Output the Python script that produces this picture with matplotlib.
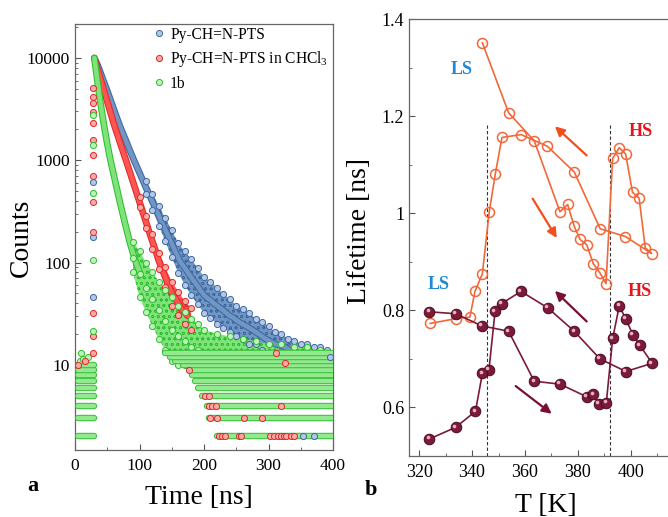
import matplotlib
matplotlib.use('Agg')
import matplotlib.pyplot as plt
import matplotlib.ticker as ticker
import matplotlib.patheffects as pe
import matplotlib.transforms as mtransforms
from matplotlib.lines import Line2D

plt.rcParams['font.family'] = ['Liberation Serif', 'DejaVu Serif']
plt.rcParams['mathtext.fontset'] = 'custom'
plt.rcParams['mathtext.rm'] = 'Liberation Serif'
plt.rcParams['mathtext.it'] = 'Liberation Serif:italic'
plt.rcParams['hatch.linewidth'] = 0.5

# ---------------- panel a : fluorescence decays ----------------
blue_t = [30, 35, 40, 45, 50, 55, 60, 65, 70, 75, 80, 85, 90, 95, 100, 105, 110, 115, 120, 125,
          130, 135, 140, 145, 150, 155, 160, 165, 170, 175, 180, 185, 190, 195, 200, 205, 210, 215,
          220, 225, 230, 235, 240, 245, 255, 265, 275, 285, 295, 310, 325, 340, 355, 370, 385, 395]
blue_c = [10000, 8570, 7050, 5800, 4790, 3900, 3180, 2590, 2130, 1790, 1500, 1250, 1050, 889, 754,
          640, 542, 462, 394, 336, 287, 245, 209, 179, 153, 130, 111, 98, 89, 80, 72, 65, 59, 53, 48,
          45, 43, 40, 38, 36, 34, 32, 30, 29, 26, 24, 22, 20, 18, 16, 15, 13, 12.4, 11.6, 11, 10.5]
blue_band_t = [110, 120, 130, 140, 150, 160, 170, 180, 190, 200, 210, 220, 230, 240, 250, 260, 270,
               280, 290, 300, 310, 320, 330, 340, 350, 360, 370, 380, 390]
blue_hi = [623, 473, 359, 272, 207, 155, 129, 108, 89, 72, 65, 57, 49, 44, 38, 35, 32, 28, 26, 24,
           21, 20, 18, 17, 16, 16, 15, 15, 14]
blue_lo = [471, 328, 230, 161, 113, 79, 61, 48, 39, 32, 29, 25, 23, 21, 19, 18, 16, 16, 14, 13,
           12, 12, 11, 10, 10, 9, 9, 9, 8]

red_t = [30, 35, 40, 45, 50, 55, 60, 65, 70, 75, 80, 85, 90, 95, 100, 105, 110, 115, 120, 125,
         130, 135, 140, 145, 150, 155, 160, 165, 170, 175]
red_c = [10000, 7820, 6120, 4790, 3740, 2930, 2290, 1840, 1480, 1190, 958, 767, 614, 491, 392,
         313, 250, 200, 161, 130, 104, 86, 72, 60, 50, 45, 40, 35, 32.5, 30]
red_band_t = [100, 110, 120, 130, 140, 150, 160, 170, 180]
red_hi = [439, 288, 190, 125, 90, 65, 52, 42, 36]
red_lo = [350, 217, 136, 87, 58, 38, 31, 25, 22]

green_t = [30, 35, 40, 45, 50, 55, 60, 65, 70, 75, 80, 85, 90, 95, 100]
green_c = [10000, 5750, 3470, 2190, 1450, 1000, 724, 525, 380, 282, 209, 158, 123, 98, 81]
green_band_t = [90, 100, 110, 120, 130, 140, 150, 160, 170, 180, 190, 200, 220, 240, 260, 280,
                300, 320, 340, 360, 380, 400]
green_hi = [160, 130, 100, 80, 65, 54, 46, 38, 33, 28, 25, 22, 20, 19, 18, 17, 16, 16, 15, 15, 14, 13]
green_mid = [110, 77, 57, 44, 34, 27, 22, 19, 17, 15, 14, 13, 13, 12.5, 12, 12, 11.5, 11.5, 11,
             11, 11, 11]
green_lo = [80, 46, 33, 24, 18, 14, 11, 10, 10, 10, 10, 10, 10, 10, 10, 10, 10, 10, 10, 10, 10, 10]

# rising edge of the pulse (all near t = 28 ns)
rise_t = 28
rise_red = [5080, 4150, 3620, 2950, 2300, 1570, 1120, 697, 387, 197, 32, 19, 13]
rise_green = [2770, 1400, 474, 106, 21.5]
rise_blue = [610, 178, 46]

# integer-count background rows
pre_levels = [2, 3, 4, 5, 6, 7, 8, 9, 10]
pre_span = (4, 29)
bg_levels = [2, 3, 4, 5, 6, 7, 8, 9, 10, 11, 12, 13]
bg_start = [220, 207, 205, 197, 190, 186, 181, 176, 168, 155, 148, 140]
bg_end = 400
pre_sparse_t = [8, 10, 13, 20]
pre_sparse_c = [11, 13, 11.4, 12]
red_bg_t = [223, 228, 233, 254, 257, 303, 309, 314, 319, 324, 327, 335, 340, 210, 220, 262, 290,
            207, 213, 218, 320, 202, 207, 176, 311, 326, 5, 15]
red_bg_c = [2, 2, 2, 2, 2, 2, 2, 2, 2, 2, 2, 2, 2, 3, 3, 3, 3, 4, 4, 4, 4, 5, 5, 9, 13, 10.5, 10, 11]
blue_bg_t = [353, 371, 395]
blue_bg_c = [2, 2, 12]

legend_labels = ['Py-CH=N-PTS', 'Py-CH=N-PTS in CHCl$_3$', '1b']

# ---------------- panel b : lifetime vs temperature ----------------
T_orange = [343.9, 353.8, 363.5, 373.2, 376.1, 378.6, 380.8, 383.3, 385.8, 388.3, 390.6, 393.1,
            395.6, 398.0, 400.6, 403.1, 405.4, 407.8, 397.9, 388.4, 378.6, 368.4, 358.5, 351.3,
            348.8, 346.5, 343.9, 341.1, 339.2, 334.0, 324.2]
L_orange = [1.351, 1.207, 1.149, 1.003, 1.018, 0.973, 0.946, 0.935, 0.896, 0.877, 0.855, 1.113,
            1.135, 1.122, 1.043, 1.031, 0.929, 0.917, 0.952, 0.968, 1.085, 1.138, 1.162, 1.156,
            1.081, 1.003, 0.875, 0.839, 0.786, 0.783, 0.773]
T_maroon = [323.9, 333.8, 343.7, 353.8, 363.5, 373.2, 383.3, 385.8, 388.0, 390.7, 393.1, 395.6,
            398.0, 400.8, 403.4, 408.0, 398.1, 388.3, 378.6, 368.6, 358.5, 351.2, 348.7, 346.4,
            343.9, 341.3, 333.8, 323.9]
L_maroon = [0.797, 0.793, 0.768, 0.757, 0.654, 0.648, 0.622, 0.627, 0.607, 0.609, 0.742, 0.809,
            0.783, 0.749, 0.728, 0.691, 0.674, 0.700, 0.757, 0.805, 0.839, 0.814, 0.798, 0.678,
            0.670, 0.592, 0.559, 0.535]
transition_T = [345.5, 392.1]

fig = plt.figure(figsize=(6.68, 5.17), dpi=100)
axa = fig.add_axes([75 / 668, 1 - 450 / 517, 258 / 668, 426 / 517])
axb = fig.add_axes([409 / 668, 1 - 456 / 517, 259 / 668, 437 / 517])

BLUE = ('#3e679e', '#7096c6', '#b3c8e6')
RED = ('#dd2a2a', '#ff5450', '#f9a9a6')
GREEN = ('#2fbd2f', '#7ee479', '#bdf3b9')

series = [
    (BLUE, blue_t, blue_c, blue_band_t, blue_lo, blue_hi),
    (RED, red_t, red_c, red_band_t, red_lo, red_hi),
    (GREEN, green_t, green_c, green_band_t, green_lo, green_hi),
]
mk = dict(marker='o', ms=4.4, mew=0.7, ls='none')
for (edge, mid, light), t, c, bt, lo, hi in series:
    axa.fill_between(bt, lo, hi, facecolor=mid, edgecolor=edge, hatch='ooo', linewidth=0, zorder=1)
    axa.plot(t, c, color=mid, lw=3.3, solid_capstyle='round', solid_joinstyle='round', zorder=2,
             path_effects=[pe.Stroke(linewidth=4.8, foreground=edge), pe.Normal()])
    axa.plot(bt, lo, mec=edge, mfc=light, zorder=2, **mk)
    axa.plot(bt, hi, mec=edge, mfc=light, zorder=2, **mk)
axa.plot(green_band_t, green_mid, mec=GREEN[0], mfc=GREEN[2], zorder=2, **mk)

# background rows (dense chains of markers at integer counts)
row_fx = [pe.Stroke(linewidth=4.6, foreground='#34bf34'), pe.Normal()]
for lvl in pre_levels:
    axa.plot(pre_span, [lvl, lvl], color='#93ea8e', lw=3.2, solid_capstyle='round',
             path_effects=row_fx, zorder=3)
for lvl, s in zip(bg_levels, bg_start):
    axa.plot([s, bg_end], [lvl, lvl], color='#93ea8e', lw=3.2, solid_capstyle='round',
             path_effects=row_fx, zorder=3)
axa.plot(pre_sparse_t, pre_sparse_c, mec=GREEN[0], mfc=GREEN[2], zorder=4, **mk)
axa.plot(red_bg_t, red_bg_c, mec=RED[0], mfc=RED[2], zorder=4, **mk)
axa.plot(blue_bg_t, blue_bg_c, mec=BLUE[0], mfc=BLUE[2], zorder=4, **mk)
axa.plot([rise_t] * len(rise_blue), rise_blue, mec=BLUE[0], mfc=BLUE[2], zorder=4, **mk)
axa.plot([rise_t] * len(rise_red), rise_red, mec=RED[0], mfc=RED[2], zorder=4, **mk)
axa.plot([rise_t] * len(rise_green), rise_green, mec=GREEN[0], mfc=GREEN[2], zorder=4, **mk)

axa.set_yscale('log')
axa.set_xlim(0, 400)
axa.set_ylim(1.47, 21500)
axa.xaxis.set_major_locator(ticker.MultipleLocator(100))
axa.xaxis.set_minor_locator(ticker.MultipleLocator(50))
axa.yaxis.set_major_locator(ticker.FixedLocator([10, 100, 1000, 10000]))
axa.yaxis.set_major_formatter(ticker.FuncFormatter(lambda v, p: f'{v:g}'))
axa.yaxis.set_minor_locator(ticker.LogLocator(subs=range(2, 10)))
axa.yaxis.set_minor_formatter(ticker.NullFormatter())
axa.tick_params(which='both', direction='in', labelsize=12.5, color='#555555')
axa.tick_params(which='major', length=4)
axa.tick_params(which='minor', length=2)
axa.tick_params(axis='x', pad=6)
for sp in axa.spines.values():
    sp.set_color('#666666')
    sp.set_linewidth(0.9)

handles = [Line2D([], [], mec=e, mfc=l, **mk) for e, m, l in (BLUE, RED, GREEN)]
axa.legend(handles, legend_labels, loc='upper left', bbox_to_anchor=(0.272, 1.012), frameon=False,
           fontsize=11.2, handlelength=0.8, handletextpad=0.3, labelspacing=0.42,
           borderpad=0, numpoints=1)

# ---------------- panel b ----------------
orange = '#f2683a'
maroon = '#7c1a3a'
axb.vlines(transition_T, 0.5, 1.182, colors='#333333', linestyles=(0, (3, 2)), lw=0.8)
axb.plot(T_orange, L_orange, '-', color=orange, lw=1.2, marker='o', ms=7.2, mfc='none',
         mec=orange, mew=1.1)
axb.plot(T_maroon, L_maroon, '-', color=maroon, lw=1.2, marker='o', ms=7.6, mfc=maroon,
         mec='#4a0a1e', mew=0.7)
shine = mtransforms.offset_copy(axb.transData, fig=fig, x=-1.2, y=1.2, units='points')
axb.plot(T_maroon, L_maroon, 'o', ms=2.6, color='#e7b0c0', mew=0, transform=shine)

arrow_kw = dict(arrowstyle='-|>', lw=1.6, mutation_scale=14, shrinkA=0, shrinkB=0)
axb.annotate('', xy=(371.3, 1.179), xytext=(383.3, 1.119), arrowprops=dict(color='#f0501e', **arrow_kw))
axb.annotate('', xy=(372.0, 0.949), xytext=(362.9, 1.030), arrowprops=dict(color='#f0501e', **arrow_kw))
axb.annotate('', xy=(371.3, 0.840), xytext=(383.3, 0.777), arrowprops=dict(color='#7a1030', **arrow_kw))
axb.annotate('', xy=(370.1, 0.587), xytext=(356.5, 0.644), arrowprops=dict(color='#7a1030', **arrow_kw))

txt = dict(fontsize=13, fontweight='bold', ha='center', va='center')
axb.text(336.1, 1.297, 'LS', color='#1f8ad2', **txt)
axb.text(403.8, 1.168, 'HS', color='#e3161d', **txt)
axb.text(327.5, 0.853, 'LS', color='#1f8ad2', **txt)
axb.text(403.4, 0.838, 'HS', color='#e3161d', **txt)

axb.set_xlim(316.2, 414)
axb.set_ylim(0.5, 1.4)
axb.xaxis.set_major_locator(ticker.MultipleLocator(20))
axb.xaxis.set_minor_locator(ticker.MultipleLocator(10))
axb.yaxis.set_major_locator(ticker.FixedLocator([0.6, 0.8, 1.0, 1.2, 1.4]))
axb.yaxis.set_major_formatter(ticker.FuncFormatter(lambda v, p: f'{v:g}'))
axb.yaxis.set_minor_locator(ticker.MultipleLocator(0.1))
axb.tick_params(which='both', direction='in', labelsize=13, color='#555555')
axb.tick_params(which='major', length=4)
axb.tick_params(which='minor', length=2)
axb.tick_params(axis='x', pad=6)
axb.spines['right'].set_visible(False)
for sp in axb.spines.values():
    sp.set_color('#666666')
    sp.set_linewidth(0.9)

fig.text(21 / 668, 1 - 238 / 517, 'Counts', rotation=90, fontsize=20, ha='center', va='center')
fig.text(199 / 668, 1 - 497 / 517, 'Time [ns]', fontsize=20, ha='center', va='center')
fig.text(360 / 668, 1 - 231 / 517, 'Lifetime [ns]', rotation=90, fontsize=20, ha='center', va='center')
fig.text(546 / 668, 1 - 505 / 517, 'T [K]', fontsize=20, ha='center', va='center')
fig.text(33 / 668, 1 - 486 / 517, 'a', fontsize=16, fontweight='bold', ha='center', va='center')
fig.text(371 / 668, 1 - 490 / 517, 'b', fontsize=16, fontweight='bold', ha='center', va='center')

fig.savefig('out.png', dpi=100)
